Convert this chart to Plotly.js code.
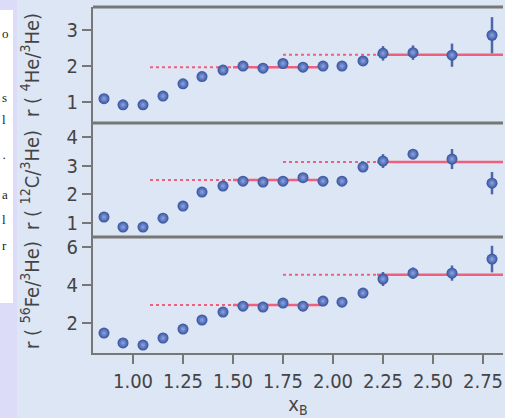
<!DOCTYPE html>
<html>
<head>
<meta charset="utf-8">
<script src="https://cdn.plot.ly/plotly-3.0.1.min.js"></script>
<style>
html,body{margin:0;padding:0;width:505px;height:418px;overflow:hidden;background:#dcdcf8;}
#strip{position:absolute;left:0;top:10px;width:13px;height:293px;background:#ffffff;overflow:hidden;font-family:"Liberation Serif",serif;font-size:13px;color:#222;}
#strip span{position:absolute;left:2px;}
#chart{position:absolute;left:17px;top:0;width:488px;height:418px;}
</style>
</head>
<body>
<div id="strip">
<span style="top:16px">o</span>
<span style="top:80px">s</span>
<span style="top:102px">l</span>
<span style="top:140px">·</span>
<span style="top:177px">a</span>
<span style="top:202px">l</span>
<span style="top:228px">r</span>
</div>
<div id="chart"></div>
<script>
// x positions (Bjorken x)
const xB = [0.855, 0.95, 1.05, 1.15, 1.25, 1.345, 1.45, 1.55, 1.65, 1.75, 1.85, 1.95, 2.045, 2.15, 2.25, 2.4, 2.595, 2.795];
// r(4He/3He)
const rHe = [1.10, 0.93, 0.93, 1.17, 1.51, 1.71, 1.89, 2.00, 1.94, 2.07, 1.97, 2.00, 2.00, 2.14, 2.35, 2.37, 2.30, 2.85];
const eHe = [0, 0, 0, 0, 0, 0, 0, 0, 0, 0, 0, 0, 0, 0, 0.2, 0.2, 0.32, 0.5];
// r(12C/3He)
const rC = [1.21, 0.86, 0.86, 1.17, 1.59, 2.08, 2.29, 2.46, 2.43, 2.46, 2.58, 2.46, 2.46, 2.95, 3.16, 3.40, 3.23, 2.39];
const eC = [0, 0, 0, 0, 0, 0, 0, 0, 0, 0, 0, 0, 0, 0, 0.24, 0.15, 0.35, 0.39];
// r(56Fe/3He)
const rFe = [1.47, 0.95, 0.84, 1.21, 1.68, 2.16, 2.58, 2.89, 2.84, 3.05, 2.89, 3.16, 3.10, 3.58, 4.32, 4.63, 4.63, 5.37];
const eFe = [0, 0, 0, 0, 0, 0, 0, 0, 0, 0, 0, 0, 0, 0, 0.37, 0.3, 0.4, 0.7];
// plateau levels [first plateau, second plateau] per panel
const levHe = [1.97, 2.31];
const levC = [2.50, 3.13];
const levFe = [2.95, 4.55];
// plateau x-extents
const dot1X = [1.085, 1.5];
const sol1X = [1.5, 1.95];
const dot2X = [1.75, 2.22];
const sol2X = [2.22, 2.85];
const xTicks = [1.00, 1.25, 1.50, 1.75, 2.00, 2.25, 2.50, 2.75];
const xTickText = ["1.00", "1.25", "1.50", "1.75", "2.00", "2.25", "2.50", "2.75"];

const red = '#f0607c';
const FONT = '"Liberation Sans Narrow", "DejaVu Sans Condensed", "Roboto Condensed", Roboto, sans-serif';

function pts(y, e, ax) {
  return {
    x: xB, y: y, xaxis: 'x', yaxis: ax, type: 'scatter', mode: 'markers',
    marker: {size: 11, color: '#34519f', gradient: {type: 'radial', color: '#8ea6df'}, line: {width: 0}},
    error_y: {type: 'data', array: e, visible: true, width: 0, thickness: 2.5, color: '#4f67a9'},
    showlegend: false, hoverinfo: 'skip'
  };
}
function seg(xs, level, ax, dash) {
  return {
    x: xs, y: [level, level], xaxis: 'x', yaxis: ax, type: 'scatter', mode: 'lines',
    line: {color: red, width: dash === 'solid' ? 2.5 : 2, dash: dash},
    showlegend: false, hoverinfo: 'skip'
  };
}
const traces = [];
[[levHe, 'y'], [levC, 'y2'], [levFe, 'y3']].forEach(([lev, ax]) => {
  traces.push(seg(dot1X, lev[0], ax, 'dot'));
  traces.push(seg(sol1X, lev[0], ax, 'solid'));
  traces.push(seg(dot2X, lev[1], ax, 'dot'));
  traces.push(seg(sol2X, lev[1], ax, 'solid'));
});
traces.push(pts(rHe, eHe, 'y'));
traces.push(pts(rC, eC, 'y2'));
traces.push(pts(rFe, eFe, 'y3'));

const tickFont = {family: FONT, size: 20, color: '#444'};
const titleFont = {family: FONT, size: 20, color: '#444'};
function yax(dom, range, tv, title) {
  return {
    domain: dom, range: range, tickvals: tv, ticktext: tv.map(String),
    ticks: 'outside', ticklen: 9, tickwidth: 2, tickcolor: '#777',
    showline: true, linecolor: '#777', linewidth: 2, showgrid: false, zeroline: false,
    tickfont: tickFont, fixedrange: true,
    title: {text: title, font: titleFont, standoff: 22}
  };
}
const layout = {
  width: 488, height: 418,
  margin: {l: 76, r: 2, t: 7, b: 65},
  paper_bgcolor: '#dde6f5', plot_bgcolor: '#dde6f5',
  font: {family: FONT, color: '#444'},
  xaxis: {
    range: [0.8, 2.85], tickvals: xTicks, ticktext: xTickText,
    ticks: 'outside', ticklen: 9, tickwidth: 2, tickcolor: '#777',
    showline: true, linecolor: '#777', linewidth: 2, showgrid: false, zeroline: false,
    tickfont: tickFont, anchor: 'y3',
    title: {text: 'x<sub>B</sub>', font: {family: FONT, size: 20, color: '#444'}, standoff: 6}
  },
  yaxis: yax([0.665, 1], [0.43, 3.63], [1, 2, 3], 'r ( <sup>4</sup>He/<sup>3</sup>He)'),
  yaxis2: yax([0.335, 0.665], [0.51, 4.49], [1, 2, 3, 4], 'r ( <sup>12</sup>C/<sup>3</sup>He)'),
  yaxis3: yax([0, 0.335], [0.42, 6.53], [2, 4, 6], 'r ( <sup>56</sup>Fe/<sup>3</sup>He)'),
  shapes: [1, 0.665, 0.335].map(v => ({
    type: 'line', xref: 'paper', yref: 'paper', x0: 0, x1: 1, y0: v, y1: v,
    line: {color: '#777', width: 3}
  }))
};
Plotly.newPlot('chart', traces, layout, {displayModeBar: false, staticPlot: true});
</script>
</body>
</html>
